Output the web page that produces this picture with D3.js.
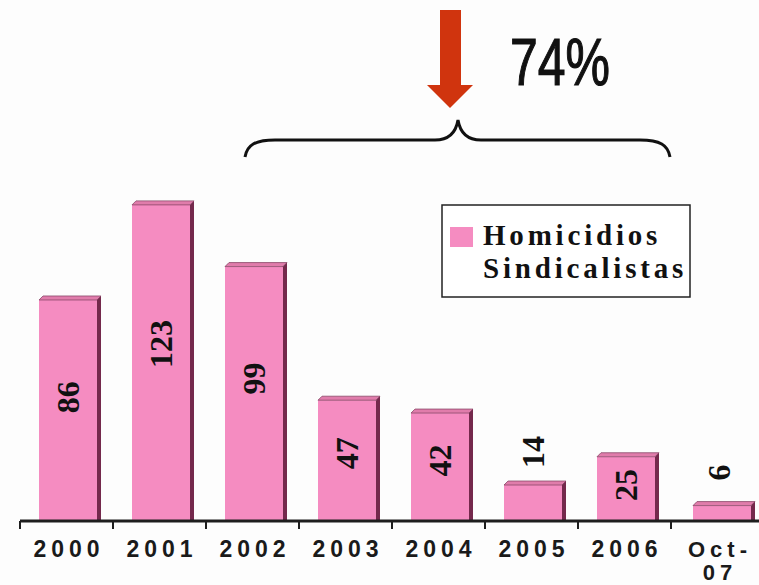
<!DOCTYPE html>
<html>
<head>
<meta charset="utf-8">
<script src="https://cdn.jsdelivr.net/npm/d3@7"></script>
<style>
  html, body { margin: 0; padding: 0; background: #fdfdfd; }
  svg { display: block; }
</style>
</head>
<body>
<svg id="chart" width="759" height="585"></svg>
<script>
// ---- data ----
const categories = ["2000", "2001", "2002", "2003", "2004", "2005", "2006", "Oct-07"];
const values = [86, 123, 99, 47, 42, 14, 25, 6];
const seriesName = ["Homicidios", "Sindicalistas"];
const annotationText = "74%";

// ---- layout ----
const W = 759, H = 585;
const baseY = 521;
const svg = d3.select("#chart");
svg.append("rect").attr("width", W).attr("height", H).attr("fill", "#fdfdfd");

const x = d3.scaleBand().domain(categories).range([20, 20 + 93 * categories.length]).padding(0);
const y = d3.scaleLinear().domain([0, 130]).range([baseY, baseY - 130 * 2.57]);

const barOff = 19, barW = 58, depth = 4;
const front = "#f58cc1", topC = "#e07cab", sideC = "#74294c", edge = "#8a4868";

const g = svg.append("g");
const bars = g.selectAll("g.bar").data(categories.map((c, i) => ({ c, v: values[i], i }))).join("g").attr("class", "bar");
const bx = d => x(d.c) + barOff + (d.i === categories.length - 1 ? 3 : 0);

bars.append("rect")
  .attr("x", bx)
  .attr("y", d => y(d.v))
  .attr("width", barW)
  .attr("height", d => baseY - y(d.v))
  .attr("fill", front);

bars.append("polygon")
  .attr("points", d => {
    const x0 = bx(d), t = y(d.v);
    return [[x0, t], [x0 + depth, t - depth], [x0 + barW + depth, t - depth], [x0 + barW, t]].join(" ");
  })
  .attr("fill", topC).attr("stroke", edge).attr("stroke-width", 0.8);

bars.append("polygon")
  .attr("points", d => {
    const x0 = bx(d), t = y(d.v);
    return [[x0 + barW, t], [x0 + barW + depth, t - depth], [x0 + barW + depth, baseY - 1], [x0 + barW, baseY]].join(" ");
  })
  .attr("fill", sideC);

// value labels (rotated)
bars.append("text")
  .attr("transform", d => {
    const cx = x(d.c) + barOff + barW / 2;
    const t = y(d.v);
    const cy = d.v < 20 ? t - 33 : t + 0.44 * (baseY - t);
    return `translate(${cx},${cy}) rotate(-90)`;
  })
  .attr("text-anchor", "middle")
  .attr("dominant-baseline", "central")
  .attr("font-family", "'Liberation Serif', 'Times New Roman', serif")
  .attr("font-weight", "bold")
  .attr("font-size", 32)
  .attr("fill", "#111")
  .text(d => d.v);

// axis
const axis = svg.append("g");
axis.append("line").attr("x1", 20).attr("x2", W).attr("y1", baseY).attr("y2", baseY)
  .attr("stroke", "#1e1e1e").attr("stroke-width", 3);
axis.selectAll("line.tick").data(categories).join("line").attr("class", "tick")
  .attr("x1", d => x(d)).attr("x2", d => x(d))
  .attr("y1", baseY).attr("y2", baseY + 8)
  .attr("stroke", "#1e1e1e").attr("stroke-width", 2);

const ls = 5;
axis.selectAll("text.lab").data(categories).join("text").attr("class", "lab")
  .attr("x", d => x(d) + x.bandwidth() / 2 + ls / 2)
  .attr("y", 557)
  .attr("text-anchor", "middle")
  .attr("font-family", "'Liberation Sans', Arial, sans-serif")
  .attr("font-weight", "bold")
  .attr("font-size", 23)
  .attr("letter-spacing", ls)
  .attr("fill", "#1a1a1a")
  .each(function (d) {
    const t = d3.select(this);
    if (d.includes("-")) {
      const parts = d.split("-");
      t.append("tspan").attr("x", x(d) + x.bandwidth() / 2 + ls / 2).attr("font-size", 22).text(parts[0] + "-");
      t.append("tspan").attr("x", x(d) + x.bandwidth() / 2 + ls / 2).attr("font-size", 22).attr("dy", 23).text(parts[1]);
    } else {
      t.text(d);
    }
  });

// legend
const lg = svg.append("g");
lg.append("rect").attr("x", 442).attr("y", 205).attr("width", 248).attr("height", 92)
  .attr("fill", "#fff").attr("stroke", "#222").attr("stroke-width", 1.5);
lg.append("rect").attr("x", 450).attr("y", 227).attr("width", 23).attr("height", 20).attr("fill", front);
lg.selectAll("text").data(seriesName).join("text")
  .attr("x", 483).attr("y", (d, i) => 245 + i * 33)
  .attr("font-family", "'Liberation Serif', 'Times New Roman', serif")
  .attr("font-weight", "bold")
  .attr("font-size", 29)
  .attr("letter-spacing", 3.8)
  .attr("fill", "#111")
  .text(d => d);

// annotation: arrow, brace, percentage
const ann = svg.append("g");
ann.append("polygon")
  .attr("points", [[440, 10], [461, 10], [461, 85], [473, 85], [450, 108], [427, 85], [440, 85]].join(" "))
  .attr("fill", "#d0340e");
ann.append("path")
  .attr("d", "M245,157 C247,145 255,140 275,140 L435,140 C450,140 456,132 458,120 C460,132 466,140 481,140 L640,140 C660,140 668,145 670,157")
  .attr("fill", "none").attr("stroke", "#111").attr("stroke-width", 3);
ann.append("text")
  .attr("x", 510).attr("y", 85)
  .attr("font-family", "'Liberation Sans Narrow', 'Liberation Sans', Arial, sans-serif")
  .attr("font-size", 66)
  .attr("textLength", 100)
  .attr("lengthAdjust", "spacingAndGlyphs")
  .attr("fill", "#111")
  .attr("stroke", "#111")
  .attr("stroke-width", 1.2)
  .text(annotationText);
</script>
</body>
</html>
